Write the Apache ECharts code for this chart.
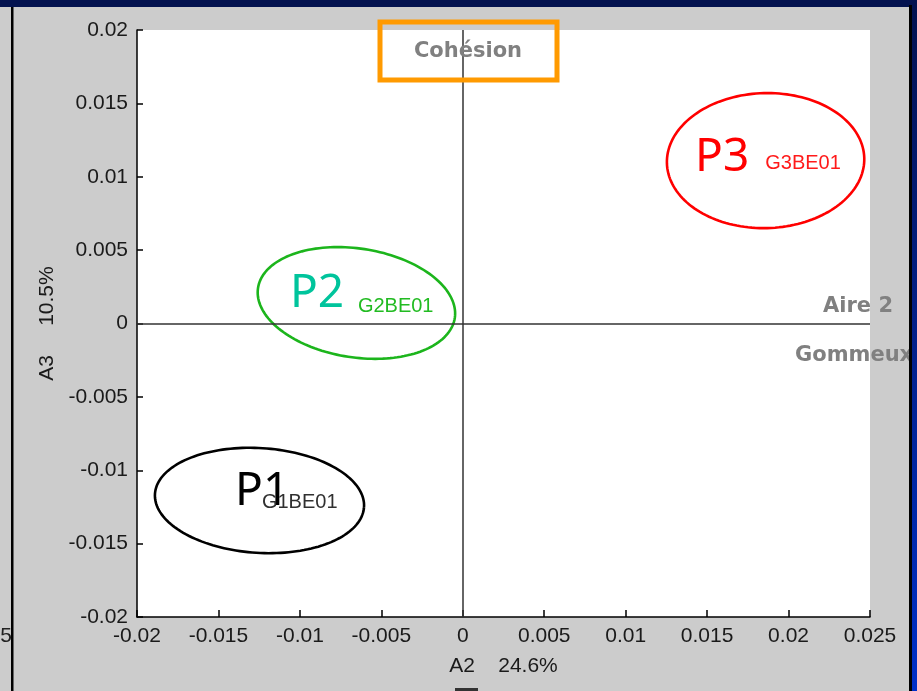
<!DOCTYPE html>
<html><head><meta charset="utf-8">
<script src="https://cdn.jsdelivr.net/npm/echarts@6/dist/echarts.min.js"></script>
<style>html,body{margin:0;padding:0;background:#cccccc;}#c{width:917px;height:691px;}</style>
</head><body><div id="c"></div>
<script>
// ---------- data ----------
const groupNames = ['P1', 'P2', 'P3'];
const sampleNames = ['G1BE01', 'G2BE01', 'G3BE01'];
const ellipseCenterX = [-0.01248, -0.00653, 0.01859];
const ellipseCenterY = [-0.01206, 0.00140, 0.01110];
const ellipseRadiusX = [0.00643, 0.00611, 0.00606];
const ellipseRadiusY = [0.00357, 0.00371, 0.00460];
const ellipseTilt = [3.6, 8.7, -1.5];
const groupLabelX = [-0.01398, -0.01061, 0.01426];
const groupLabelY = [-0.01131, 0.00218, 0.01141];
const sampleLabelX = [-0.01233, -0.00644, 0.01857];
const sampleLabelY = [-0.01210, 0.00126, 0.01097];
const xTickLabels = ['-0.02', '-0.015', '-0.01', '-0.005', '0', '0.005', '0.01', '0.015', '0.02', '0.025'];
const yTickLabels = ['-0.02', '-0.015', '-0.01', '-0.005', '0', '0.005', '0.01', '0.015', '0.02'];
const xAxisTitle = 'A2    24.6%';
const yAxisTitle = 'A3     10.5%';
const annotationTop = 'Cohésion';
const annotationRight1 = 'Aire 2';
const annotationRight2 = 'Gommeux';

// ---------- styles ----------
const ellipseColors = ['#000000', '#1cb51c', '#ff0000'];
const groupColors = ['#000000', '#00c49c', '#ff0000'];
const sampleColors = ['#303030', '#22bb22', '#ff1a1a'];
const tickFont = "'Liberation Sans', Arial, sans-serif";
const handFont = "'Noto Sans', 'DejaVu Sans', sans-serif";
const noteFont = "'DejaVu Sans', sans-serif";

const chart = echarts.init(document.getElementById('c'), null, {renderer: 'canvas'});

const ellipseData = groupNames.map((g, i) => [ellipseCenterX[i], ellipseCenterY[i], ellipseRadiusX[i], ellipseRadiusY[i], ellipseTilt[i]]);
const groupData = groupNames.map((g, i) => ({
  value: [groupLabelX[i], groupLabelY[i]],
  label: {formatter: g, color: groupColors[i]}
}));
const sampleData = sampleNames.map((s, i) => ({
  value: [sampleLabelX[i], sampleLabelY[i]],
  label: {formatter: s, color: sampleColors[i]}
}));

const option = {
  backgroundColor: '#cccccc',
  animation: false,
  grid: {left: 137, right: 47, top: 30, bottom: 74, show: true, backgroundColor: '#ffffff', borderWidth: 0},
  xAxis: {
    type: 'value', min: -0.02, max: 0.025, interval: 0.005,
    name: xAxisTitle, nameLocation: 'middle', nameGap: 39,
    nameTextStyle: {fontFamily: tickFont, fontSize: 21, color: '#1a1a1a'},
    axisLine: {show: true, onZero: false, lineStyle: {color: '#000', width: 1.5}},
    axisTick: {show: true, inside: true, length: 7, lineStyle: {color: '#000', width: 1.5}},
    axisLabel: {fontFamily: tickFont, fontSize: 21, color: '#1a1a1a', margin: 9,
      formatter: (v, idx) => xTickLabels[idx]},
    splitLine: {show: false}
  },
  yAxis: {
    type: 'value', min: -0.02, max: 0.02, interval: 0.005,
    name: yAxisTitle, nameLocation: 'middle', nameGap: 79,
    nameTextStyle: {fontFamily: tickFont, fontSize: 21, color: '#1a1a1a'},
    axisLine: {show: true, onZero: false, lineStyle: {color: '#000', width: 1.5}},
    axisTick: {show: true, inside: true, length: 6, lineStyle: {color: '#000', width: 1.5}},
    axisLabel: {fontFamily: tickFont, fontSize: 21, color: '#1a1a1a', margin: 9,
      formatter: (v, idx) => yTickLabels[idx]},
    splitLine: {show: false}
  },
  series: [
    {
      type: 'custom', clip: false, silent: true,
      data: ellipseData,
      renderItem: function (params, api) {
        const c = api.coord([api.value(0), api.value(1)]);
        const sx = Math.abs(api.size([api.value(2), 0])[0]);
        const sy = Math.abs(api.size([0, api.value(3)])[1]);
        const t = api.value(4) * Math.PI / 180;
        const pts = [];
        for (let k = 0; k <= 160; k++) {
          const a = k / 160 * 2 * Math.PI;
          const ex = sx * Math.cos(a), ey = sy * Math.sin(a);
          pts.push([c[0] + ex * Math.cos(t) - ey * Math.sin(t), c[1] + ex * Math.sin(t) + ey * Math.cos(t)]);
        }
        return {type: 'polyline', shape: {points: pts},
          style: {fill: null, stroke: ellipseColors[params.dataIndex], lineWidth: 2.6}};
      },
      markLine: {
        silent: true, symbol: 'none', animation: false,
        label: {show: false},
        lineStyle: {color: '#333', width: 1.5, type: 'solid', opacity: 1},
        data: [{xAxis: 0}, {yAxis: 0}]
      },
      z: 2
    },
    {
      type: 'scatter', symbolSize: 0, silent: true, z: 3,
      itemStyle: {opacity: 1},
      data: groupData,
      label: {show: true, position: 'right', distance: 0, offset: [0, 2], fontFamily: handFont, fontSize: 46, align: 'left', verticalAlign: 'middle'}
    },
    {
      type: 'scatter', symbolSize: 0, silent: true, z: 3,
      itemStyle: {opacity: 1},
      data: sampleData,
      label: {show: true, position: 'right', distance: 0, offset: [0, 1], fontFamily: tickFont, fontSize: 20, align: 'left', verticalAlign: 'middle'}
    }
  ],
  graphic: [
    {type: 'rect', shape: {x: 380, y: 22, width: 177, height: 58}, style: {fill: null, stroke: '#ff9a00', lineWidth: 5}, z: 10},
    {type: 'text', x: 468, y: 52, style: {text: annotationTop, font: "bold 21px " + noteFont, fill: '#808080', align: 'center', verticalAlign: 'middle'}, z: 10},
    {type: 'text', x: 893, y: 307, style: {text: annotationRight1, font: "bold 21px " + noteFont, fill: '#808080', align: 'right', verticalAlign: 'middle'}, z: 10},
    {type: 'text', x: 795, y: 356, style: {text: annotationRight2, font: "bold 21px " + noteFont, fill: '#808080', align: 'left', verticalAlign: 'middle'}, z: 10},
    {type: 'text', x: 12, y: 636, style: {text: '0.025', font: "21px " + tickFont, fill: '#222', align: 'right', verticalAlign: 'middle'}, z: 10},
    {type: 'rect', shape: {x: 455, y: 688, width: 23, height: 3}, style: {fill: '#333'}, z: 10},
    {type: 'rect', shape: {x: 0, y: 0, width: 917, height: 7}, style: {fill: '#03124f'}, z: 20},
    {type: 'rect', shape: {x: 11, y: 7, width: 2.5, height: 684}, style: {fill: '#000'}, z: 20},
    {type: 'rect', shape: {x: 909, y: 5, width: 3, height: 686}, style: {fill: '#000'}, z: 20},
    {type: 'rect', shape: {x: 912, y: 0, width: 5, height: 691}, style: {fill: new echarts.graphic.LinearGradient(0, 0, 0, 1, [{offset: 0, color: '#03124f'}, {offset: 1, color: '#0030c8'}])}, z: 20}
  ]
};
chart.setOption(option);
</script>
</body></html>
